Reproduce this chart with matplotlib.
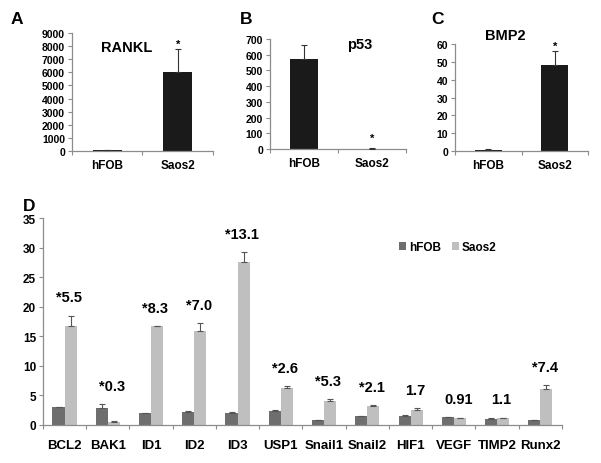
import matplotlib
matplotlib.use("Agg")
import matplotlib.pyplot as plt
import numpy as np

plt.rcParams['font.family'] = ['Liberation Sans', 'DejaVu Sans']
plt.rcParams['font.weight'] = 'bold'

# top panels: hFOB vs Saos2
cells = ['hFOB', 'Saos2']
rankl = [40, 6050]
rankl_err = [0, 1750]
p53 = [575, 2]
p53_err = [85, 3]
bmp2 = [0.8, 48]
bmp2_err = [0.2, 8]

# panel D
genes = ['BCL2', 'BAK1', 'ID1', 'ID2', 'ID3', 'USP1', 'Snail1', 'Snail2',
         'HIF1', 'VEGF', 'TIMP2', 'Runx2']
hfob = [3.0, 2.9, 2.0, 2.2, 2.1, 2.4, 0.8, 1.5, 1.6, 1.3, 1.0, 0.8]
hfob_err = [0.1, 0.7, 0.1, 0.1, 0.1, 0.2, 0.1, 0.05, 0.1, 0.05, 0.1, 0.05]
saos2 = [16.8, 0.5, 16.7, 15.9, 27.5, 6.3, 4.0, 3.2, 2.6, 1.2, 1.2, 6.1]
saos2_err = [1.7, 0.1, 0.1, 1.4, 1.7, 0.3, 0.35, 0.1, 0.2, 0.05, 0.05, 0.7]
fold = ['*5.5', '*0.3', '*8.3', '*7.0', '*13.1', '*2.6', '*5.3', '*2.1',
        '1.7', '0.91', '1.1', '*7.4']

AX_COL = '#8c8c8c'


def style(ax, ytick_size):
    for s in ['top', 'right']:
        ax.spines[s].set_visible(False)
    for s in ['left', 'bottom']:
        ax.spines[s].set_color(AX_COL)
        ax.spines[s].set_linewidth(0.9)
    ax.tick_params(axis='y', color=AX_COL, length=3, width=0.8, labelsize=ytick_size, pad=2)
    ax.tick_params(axis='x', which='major', length=0, labelsize=ytick_size + 1, pad=6)
    ax.tick_params(axis='x', which='minor', color=AX_COL, length=3, width=0.8)


fig = plt.figure(figsize=(6.01, 4.64), dpi=100)


def small_panel(rect, vals, errs, ymax, ystep, title, title_xy, star_off):
    ax = fig.add_axes(rect)
    x = np.arange(len(cells))
    ax.bar(x, vals, width=0.41, color='#1a1a1a', zorder=2)
    ax.errorbar(x, vals, yerr=[np.zeros(len(errs)), errs], fmt='none',
                ecolor='#333333', elinewidth=0.8, capsize=2.5, capthick=0.8, zorder=3)
    ax.set_xlim(-0.5, 1.5)
    ax.set_ylim(0, ymax)
    ax.set_yticks(np.arange(0, ymax + 1e-9, ystep))
    ax.set_xticks(x)
    ax.set_xticklabels(cells)
    ax.set_xticks([-0.5, 0.5, 1.5], minor=True)
    style(ax, 7.5)
    ax.text(title_xy[0], title_xy[1], title, transform=ax.transAxes,
            fontsize=10.5, ha='center', va='center')
    ax.annotate('*', (1, vals[1] + errs[1]), xytext=(0, star_off),
                textcoords='offset points', ha='center', va='bottom', fontsize=8)
    return ax


small_panel([0.1198, 0.6724, 0.2346, 0.2543], rankl, rankl_err, 9000, 1000,
            'RANKL', (0.39, 0.88), 0)
small_panel([0.4493, 0.6767, 0.2263, 0.2371], p53, p53_err, 700, 100,
            'p53', (0.66, 0.95), 4)
small_panel([0.7571, 0.6724, 0.2213, 0.2306], bmp2, bmp2_err, 60, 10,
            'BMP2', (0.38, 1.08), 0)

# panel D
axd = fig.add_axes([0.0715, 0.0819, 0.8636, 0.4461])
x = np.arange(len(genes))
w = 0.28
axd.bar(x - w / 2, hfob, width=w, color='#6e6e6e', label='hFOB', zorder=2)
axd.bar(x + w / 2, saos2, width=w, color='#bfbfbf', label='Saos2', zorder=2)
axd.errorbar(x - w / 2, hfob, yerr=[np.zeros(len(hfob)), hfob_err], fmt='none',
             ecolor='#555555', elinewidth=0.8, capsize=2.5, capthick=0.8, zorder=3)
axd.errorbar(x + w / 2, saos2, yerr=[np.zeros(len(saos2)), saos2_err], fmt='none',
             ecolor='#555555', elinewidth=0.8, capsize=2.5, capthick=0.8, zorder=3)
axd.set_xlim(-0.5, len(genes) - 0.5)
axd.set_ylim(0, 35)
axd.set_yticks(np.arange(0, 36, 5))
axd.set_xticks(x)
axd.set_xticklabels(genes)
axd.set_xticks(np.arange(-0.5, len(genes), 1), minor=True)
style(axd, 8.5)
axd.tick_params(axis='x', which='major', pad=10)

for i, lab in enumerate(fold):
    top = max(hfob[i] + hfob_err[i], saos2[i] + saos2_err[i])
    axd.annotate(lab, (x[i] + 0.1, top), xytext=(0, 8),
                 textcoords='offset points', ha='center', va='bottom', fontsize=10.5)

axd.legend(loc='center', bbox_to_anchor=(0.78, 0.86), ncol=2, frameon=False,
           fontsize=8.5, handlelength=0.6, handleheight=0.6, handletextpad=0.25,
           columnspacing=0.9)

# panel letters
for lab, px, py in [('A', 17, 19), ('B', 246, 19), ('C', 438, 19), ('D', 29, 207)]:
    fig.text(px / 601, 1 - py / 464, lab, fontsize=12.5, ha='center', va='center')

fig.savefig('out.png', dpi=100)
